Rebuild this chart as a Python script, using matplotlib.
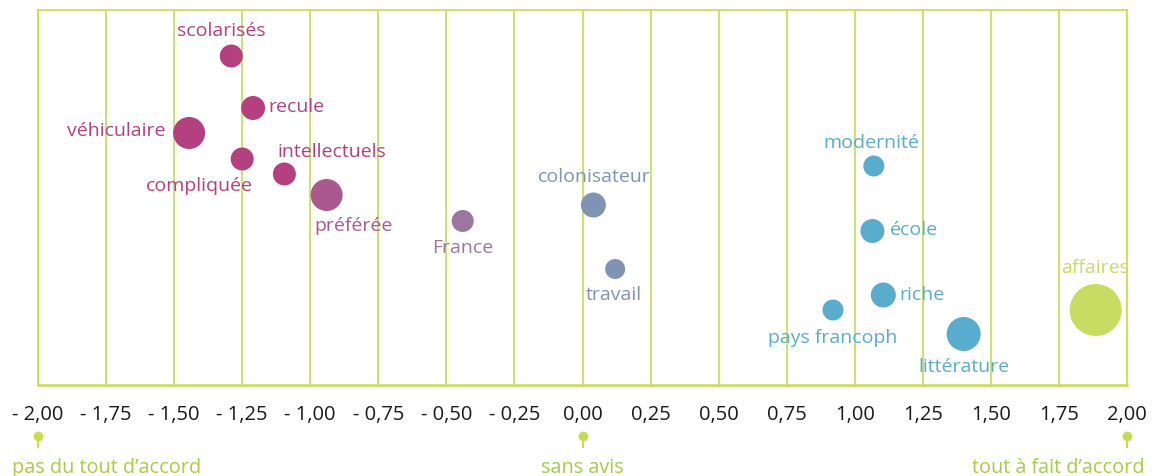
import matplotlib.pyplot as plt

plt.rcParams['font.family'] = ['Open Sans', 'DejaVu Sans']

# mots et position moyenne sur l'échelle d'accord
mots = ['scolarisés', 'recule', 'véhiculaire', 'compliquée', 'intellectuels',
        'préférée', 'France', 'colonisateur', 'travail', 'modernité',
        'école', 'riche', 'pays francoph', 'littérature', 'affaires']
accord = [-1.29, -1.21, -1.445, -1.25, -1.095, -0.94, -0.44, 0.04, 0.12,
          1.07, 1.065, 1.105, 0.92, 1.40, 1.885]
rang = [329, 277, 252, 226, 211, 190, 164, 180, 116, 219, 154, 90, 75, 51, 75]
taille = [11.5, 12, 16, 11.5, 11.5, 16, 11, 12.5, 10, 10.5, 12, 12.5, 10.5, 17, 26]

ticks = [-2, -1.75, -1.5, -1.25, -1, -0.75, -0.5, -0.25, 0, 0.25, 0.5, 0.75,
         1, 1.25, 1.5, 1.75, 2]
tick_labels = ['- 2,00', '- 1,75', '- 1,50', '- 1,25', '- 1,00', '- 0,75',
               '- 0,50', '- 0,25', '0,00', '0,25', '0,50', '0,75', '1,00',
               '1,25', '1,50', '1,75', '2,00']
reperes = [-2, 0, 2]
reperes_labels = ["pas du tout d\u2019accord", 'sans avis', "tout à fait d\u2019accord"]

magenta = '#b5407f'
couleurs = [magenta] * 5 + ['#aa5890', '#9b77a0', '#7f94b5', '#7f94b5'] + ['#5aaccc'] * 5 + ['#c8dc64']

# position de chaque étiquette autour de sa bulle (décalage en pixels, alignement)
places = [(-10, 25, 'center'), (15, 1, 'left'), (-24, 2, 'right'),
          (-43, -27, 'center'), (-7, 22, 'left'), (-12, -31, 'left'),
          (0, -27, 'center'), (1, 28, 'center'), (-1, -26, 'center'),
          (-2, 23, 'center'), (17, 1, 'left'), (16, 0, 'left'),
          (0, -28, 'center'), (0, -33, 'center'), (-1, 42, 'center')]

green = '#c8dc50'
fig = plt.figure(figsize=(11.59, 4.76), dpi=100)
ax = fig.add_axes([38 / 1159, 91 / 476, 1089 / 1159, 375 / 476])

for t in ticks:
    ax.axvline(t, color=green, lw=1.2, zorder=1)

ax.scatter(accord, rang, s=[(2 * r * 0.72) ** 2 for r in taille],
           c=couleurs, linewidths=0, zorder=3)

for m, x, y, c, (dx, dy, ha) in zip(mots, accord, rang, couleurs, places):
    ax.annotate(m, (x, y), xytext=(dx * 0.72, dy * 0.72), textcoords='offset points',
                ha=ha, va='center', color=c, fontsize=14, zorder=4)

ax.set_xlim(-2, 2)
ax.set_ylim(0, 375)
ax.set_yticks([])
ax.set_xticks(ticks)
ax.set_xticklabels(tick_labels, fontsize=14.5, color='#1a1a1a')
ax.tick_params(axis='x', length=0, pad=14.5)
for s in ax.spines.values():
    s.set_color(green)
    s.set_linewidth(1.2)
ax.spines['bottom'].set_linewidth(1.8)

tr = ax.get_xaxis_transform()
decalages = [(-26, 'left'), (0, 'center'), (18, 'right')]
for x, lab, (dx, ha) in zip(reperes, reperes_labels, decalages):
    ax.plot([x, x], [-0.136, -0.165], color=green, lw=1.5, transform=tr, clip_on=False)
    ax.plot([x], [-0.136], 'o', color=green, ms=6, transform=tr, clip_on=False)
    ax.annotate(lab, (x, -0.221), xycoords=tr, xytext=(dx * 0.72, 0),
                textcoords='offset points', ha=ha, va='center',
                color='#a8cc48', fontsize=14.3)

fig.savefig('out.png', dpi=100)
